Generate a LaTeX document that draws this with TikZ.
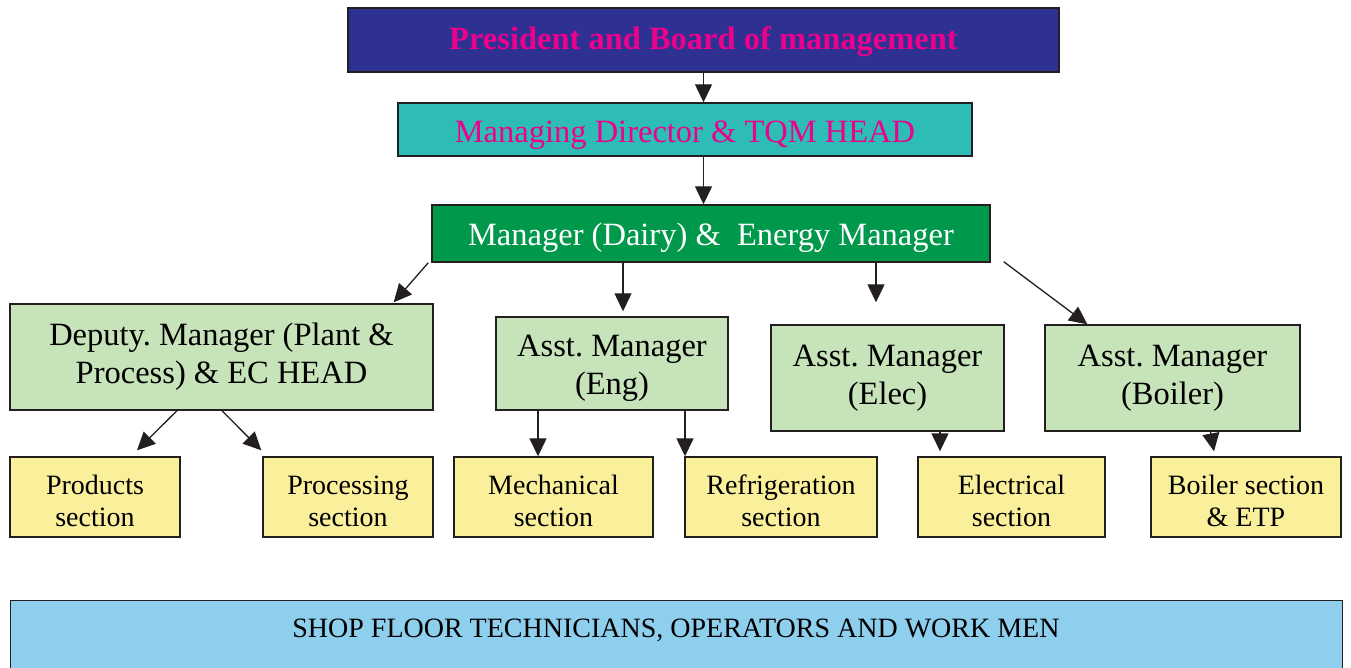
\documentclass[tikz,border=0pt]{standalone}
\usepackage{fontspec}
\setmainfont{Liberation Serif}
\usetikzlibrary{arrows.meta}
\definecolor{boardblue}{HTML}{2E3192}
\definecolor{headpink}{HTML}{EC008C}
\definecolor{mdteal}{HTML}{2EBDB6}
\definecolor{mgrgreen}{HTML}{00994B}
\definecolor{asstgreen}{HTML}{C7E3B9}
\definecolor{secyellow}{HTML}{FAF09B}
\definecolor{floorblue}{HTML}{8ECFEE}
\definecolor{boxline}{HTML}{231F20}
% invisible strut to push a label down inside its box
\newcommand{\lift}[1]{\rule{0pt}{#1}}
\frenchspacing

\begin{document}
\begin{tikzpicture}[x=1pt,y=-1pt,
    box/.style={draw=boxline, line width=1.4pt, inner sep=0pt, align=center},
    big/.style={font=\fontsize{32.5}{38}\selectfont},
    small/.style={font=\fontsize{28}{32}\selectfont},
    arr/.style={draw=boxline, line width=1.3pt, -{Triangle[length=18pt,width=17pt]}}]
			%%%%% START %%%%%
			\useasboundingbox (0,0) rectangle (1351,667);
			\clip (0,0) rectangle (1351,667);
			
			% top of the tree
			\node[box, big, fill=boardblue, text=headpink, font=\fontsize{32.5}{38}\selectfont\bfseries,
			      minimum width=711, minimum height=64] (pres) at (703.5,40) {\lift{26pt}President and Board of management};
			\node[box, big, fill=mdteal, text=headpink,
			      minimum width=574, minimum height=53] (md) at (685,129.5) {\lift{33pt}Managing Director \& TQM HEAD};
			\node[box, big, fill=mgrgreen, text=white,
			      minimum width=558, minimum height=57] (mgr) at (711,233.5) {\lift{32pt}Manager (Dairy) \&\ \ Energy Manager};
			
			% managers
			\node[box, big, fill=asstgreen, minimum width=423, minimum height=106] (dep) at (221.5,357) {Deputy. Manager (Plant \&\\Process) \& EC HEAD};
			\node[box, big, fill=asstgreen, minimum width=232, minimum height=93] (eng) at (612,363.5) {\lift{30pt}Asst. Manager\\(Eng)};
			\node[box, big, fill=asstgreen, minimum width=233, minimum height=106] (elec) at (887.5,378) {Asst. Manager\\(Elec)};
			\node[box, big, fill=asstgreen, minimum width=255, minimum height=106] (boil) at (1172.5,378) {Asst. Manager\\(Boiler)};
			
			% sections
			\tikzset{section/.style={box, small, fill=secyellow, minimum height=80}}
			\node[section, minimum width=170] (prod) at (95,497) {\lift{27pt}Products\\section};
			\node[section, minimum width=170] (proc) at (348,497) {\lift{27pt}Processing\\section};
			\node[section, minimum width=199] (mech) at (553.5,497) {\lift{27pt}Mechanical\\section};
			\node[section, minimum width=192] (refr) at (781,497) {\lift{27pt}Refrigeration\\section};
			\node[section, minimum width=187] (elsec) at (1011.5,497) {\lift{27pt}Electrical\\section};
			\node[section, minimum width=190] (boilsec) at (1246,497) {\lift{27pt}Boiler section\\\& ETP};
			
			% shop floor
			\node[box, fill=floorblue, minimum width=1332, minimum height=90, anchor=north west] (floor) at (10,600) {};
			\node[small] (floortext) at (676,630) {SHOP FLOOR TECHNICIANS, OPERATORS AND WORK MEN};
			
			% arrows
			\draw[arr] (pres.south) -- (pres.south |- md.north);
			\draw[arr] (md.south -| pres.south) -- (mgr.north -| pres.south);
			
			\draw[arr] ([xshift=-3]mgr.south west) -- ([xshift=-40,yshift=1]dep.north east);
			\draw[arr, shorten >=5pt] ([xshift=11]eng.north |- mgr.south) -- ([xshift=11]eng.north);
			\draw[arr, shorten >=22pt] ([xshift=-11.5]elec.north |- mgr.south) -- ([xshift=-11.5]elec.north);
			\draw[arr] ([xshift=13,yshift=1]mgr.south east) -- ([xshift=43]boil.north west);
			
			\draw[arr] ([xshift=-44.5]dep.south) -- ([xshift=42,yshift=6]prod.north);
			\draw[arr] ([xshift=0.5]dep.south) -- ([xshift=-1,yshift=6]proc.north west);
			\draw[arr] ([xshift=-74]eng.south) -- ([xshift=-74]eng.south |- mech.north);
			\draw[arr] ([xshift=73]eng.south) -- ([xshift=73]eng.south |- refr.north);
			\draw[arr] ([xshift=52.5]elec.south) -- ([xshift=52.5,yshift=5]elec.south |- elsec.north);
			\draw[arr] ([xshift=38]boil.south) -- ([xshift=-32,yshift=5]boilsec.north);
			
			%%%%% END %%%%%
\end{tikzpicture}
\end{document}
